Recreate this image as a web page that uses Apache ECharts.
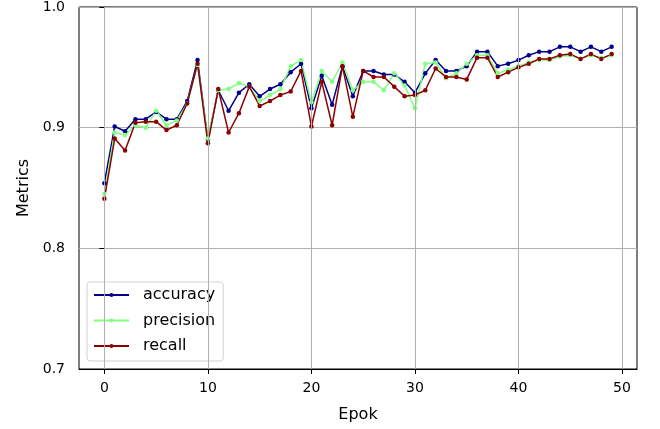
<!DOCTYPE html>
<html>
<head>
<meta charset="utf-8">
<style>
  html, body { margin: 0; padding: 0; background: #fff; }
  #chart { width: 660px; height: 429px; }
</style>
<script src="https://cdn.jsdelivr.net/npm/echarts@6/dist/echarts.min.js"></script>
</head>
<body>
<div id="chart"></div>
<script>
'use strict';
const epochs = [0, 1, 2, 3, 4, 5, 6, 7, 8, 9, 10, 11, 12, 13, 14, 15, 16, 17, 18, 19,
    20, 21, 22, 23, 24, 25, 26, 27, 28, 29, 30, 31, 32, 33, 34, 35, 36, 37, 38, 39,
    40, 41, 42, 43, 44, 45, 46, 47, 48, 49];
const accuracy = [0.854, 0.901, 0.897, 0.907, 0.907, 0.913, 0.907, 0.907, 0.922, 0.956,
    0.890, 0.931, 0.914, 0.929, 0.936, 0.926, 0.932, 0.936, 0.946, 0.953,
    0.916, 0.943, 0.919, 0.951, 0.926, 0.947, 0.947, 0.944, 0.944, 0.938,
    0.929, 0.945, 0.956, 0.947, 0.947, 0.951, 0.963, 0.963, 0.951, 0.953,
    0.956, 0.960, 0.963, 0.963, 0.967, 0.967, 0.963, 0.967, 0.963, 0.967];
const precision = [0.845, 0.896, 0.894, 0.902, 0.900, 0.914, 0.902, 0.906, 0.920, 0.952,
    0.891, 0.931, 0.932, 0.937, 0.934, 0.922, 0.927, 0.932, 0.951, 0.956,
    0.921, 0.947, 0.938, 0.954, 0.931, 0.938, 0.938, 0.931, 0.945, 0.935,
    0.916, 0.953, 0.954, 0.941, 0.945, 0.953, 0.960, 0.960, 0.945, 0.948,
    0.951, 0.954, 0.956, 0.956, 0.959, 0.960, 0.957, 0.960, 0.958, 0.960];
const recall = [0.841, 0.891, 0.881, 0.904, 0.905, 0.905, 0.898, 0.902, 0.920, 0.953,
    0.887, 0.932, 0.896, 0.912, 0.934, 0.918, 0.922, 0.927, 0.930, 0.947,
    0.901, 0.938, 0.902, 0.951, 0.909, 0.947, 0.942, 0.942, 0.934, 0.926,
    0.927, 0.931, 0.949, 0.942, 0.942, 0.940, 0.958, 0.958, 0.942, 0.946,
    0.950, 0.953, 0.957, 0.957, 0.960, 0.961, 0.957, 0.961, 0.957, 0.961];
const xTicks = [0, 10, 20, 30, 40, 50];

const font = 'DejaVu Sans';

function pairs(vals) {
    return epochs.map((e, i) => [e, vals[i]]);
}

function lineSeries(name, color, vals) {
    return {
        name: name,
        type: 'line',
        data: pairs(vals),
        symbol: 'circle',
        symbolSize: 4.5,
        showSymbol: true,
        color: color,
        lineStyle: { color: color, width: 1.5 },
        itemStyle: { color: color },
        z: 3,
    };
}

function init() {
    const chart = echarts.init(document.getElementById('chart'));
    const option = {
        animation: false,
        grid: {
            left: 79,
            right: 23,
            top: 6,
            bottom: 60,
            show: true,
            borderColor: '#000',
            borderWidth: 1,
        },
        legend: {
            orient: 'vertical',
            left: 87,
            top: 282,
            data: ['accuracy', 'precision', 'recall'],
            itemWidth: 35,
            itemHeight: 5,
            itemGap: 9.5,
            padding: [5, 8, 7, 6],
            backgroundColor: 'rgba(255,255,255,0.8)',
            borderColor: '#d0d0d0',
            borderWidth: 1,
            borderRadius: 3,
            textStyle: { fontFamily: font, fontSize: 16, color: '#000', padding: [0, 0, 0, 9] },
        },
        xAxis: {
            type: 'value',
            min: -2.45,
            max: 51.45,
            name: 'Epok',
            nameLocation: 'middle',
            nameGap: 38,
            nameTextStyle: { fontFamily: font, fontSize: 16, color: '#000' },
            axisLine: { show: true, onZero: false, lineStyle: { color: '#000', width: 1 } },
            axisTick: { show: true, customValues: xTicks, length: 5, lineStyle: { color: '#000' } },
            axisLabel: {
                customValues: xTicks,
                fontFamily: font,
                fontSize: 14,
                color: '#000',
                margin: 12,
            },
            splitLine: { show: false },
        },
        yAxis: {
            type: 'value',
            min: 0.7,
            max: 1.0,
            interval: 0.1,
            name: 'Metrics',
            nameLocation: 'middle',
            nameGap: 43,
            nameRotate: 90,
            nameTextStyle: { fontFamily: font, fontSize: 16, color: '#000' },
            axisLine: { show: true, lineStyle: { color: '#000', width: 1 } },
            axisTick: { show: true, length: 5, lineStyle: { color: '#000' } },
            axisLabel: {
                fontFamily: font,
                fontSize: 14,
                color: '#000',
                margin: 14,
                formatter: (v) => v.toFixed(1),
            },
            splitLine: { show: true, lineStyle: { color: '#b0b0b0', width: 1 } },
        },
        series: [
            {
                // vertical grid lines at the x ticks
                name: 'xgrid',
                type: 'line',
                data: [],
                z: 1,
                silent: true,
                markLine: {
                    silent: true,
                    symbol: 'none',
                    label: { show: false },
                    lineStyle: { color: '#b0b0b0', width: 1, type: 'solid' },
                    data: xTicks.map((v) => ({ xAxis: v })),
                },
            },
            lineSeries('accuracy', '#00008b', accuracy),
            lineSeries('precision', '#80ff80', precision),
            lineSeries('recall', '#8b0000', recall),
        ],
    };
    chart.setOption(option);
}

init();
</script>
</body>
</html>
